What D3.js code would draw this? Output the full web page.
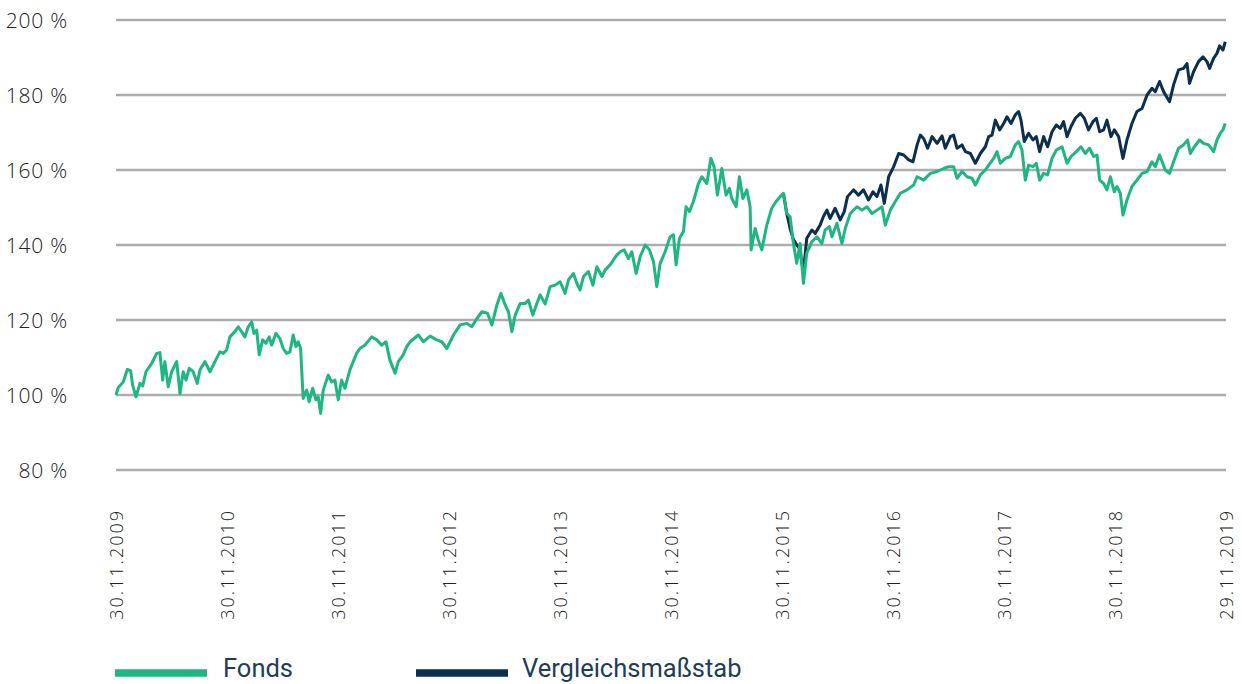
<!DOCTYPE html>
<html>
<head>
<meta charset="utf-8">
<script src="https://cdn.jsdelivr.net/npm/d3@7"></script>
<style>
  body { margin: 0; background: #fff; }
  svg { display: block; }
</style>
</head>
<body>
<svg id="chart" width="1242" height="684"></svg>
<script>
// tick labels
const dateLabels = ["30.11.2009", "30.11.2010", "30.11.2011", "30.11.2012", "30.11.2013",
  "30.11.2014", "30.11.2015", "30.11.2016", "30.11.2017", "30.11.2018", "29.11.2019"];
const yTicks = [80, 100, 120, 140, 160, 180, 200];
const seriesNames = ["Fonds", "Vergleichsmaßstab"];

// [decimal year, % value]
const fonds = [
  [2009.912, 100], [2009.933, 102.0], [2009.978, 103.5], [2010.014, 106.8], [2010.044, 106.5],
  [2010.062, 102.7], [2010.092, 99.5], [2010.128, 103.1], [2010.153, 102.4], [2010.182, 106.2],
  [2010.234, 108.4], [2010.279, 111.1], [2010.308, 111.3], [2010.333, 104], [2010.353, 108.9],
  [2010.383, 102.2], [2010.414, 106.2], [2010.459, 108.9], [2010.489, 100.4], [2010.518, 106.2],
  [2010.543, 104], [2010.572, 107.1], [2010.608, 106.2], [2010.644, 103.1], [2010.669, 106.7],
  [2010.714, 108.9], [2010.759, 106.2], [2010.804, 108.9], [2010.849, 111.5], [2010.879, 111.1],
  [2010.909, 112], [2010.939, 115.5], [2010.984, 116.9], [2011.014, 118.2], [2011.044, 116.9],
  [2011.074, 115.5], [2011.104, 118.2], [2011.135, 119.5], [2011.155, 116.4], [2011.180, 117.3],
  [2011.203, 110.7], [2011.234, 114.7], [2011.263, 113.8], [2011.293, 115.5], [2011.315, 113.3],
  [2011.353, 116.4], [2011.389, 115.1], [2011.419, 112.4], [2011.450, 111.1], [2011.480, 111.5],
  [2011.509, 116], [2011.534, 112.9], [2011.554, 114.2], [2011.576, 112.4], [2011.599, 99.1],
  [2011.630, 101.3], [2011.653, 98.2], [2011.684, 101.8], [2011.714, 98.7], [2011.735, 99.5],
  [2011.756, 95.1], [2011.780, 101.3], [2011.825, 105.3], [2011.855, 103.5], [2011.885, 104],
  [2011.915, 98.7], [2011.945, 104], [2011.975, 101.8], [2012.020, 106.7], [2012.080, 111.1],
  [2012.110, 112.4], [2012.155, 113.3], [2012.216, 115.5], [2012.261, 114.7], [2012.306, 113.3],
  [2012.344, 114.2], [2012.380, 109.3], [2012.426, 105.8], [2012.455, 108.9], [2012.495, 110.5],
  [2012.531, 112.9], [2012.561, 114.2], [2012.635, 116], [2012.680, 114.2], [2012.741, 115.7],
  [2012.801, 114.7], [2012.846, 114.2], [2012.891, 112.4], [2012.951, 116], [2013.011, 118.7],
  [2013.071, 119.1], [2013.116, 118.2], [2013.162, 120.4], [2013.207, 122.2], [2013.257, 121.8],
  [2013.297, 118.7], [2013.342, 124], [2013.378, 127.1], [2013.417, 124], [2013.446, 122.2],
  [2013.477, 116.9], [2013.507, 121.3], [2013.552, 124.4], [2013.597, 124.4], [2013.626, 125.3],
  [2013.666, 121.3], [2013.702, 124.4], [2013.732, 126.7], [2013.777, 124.3], [2013.822, 128.9],
  [2013.867, 129.3], [2013.912, 130.2], [2013.957, 127.1], [2013.987, 130.7], [2014.032, 132.4],
  [2014.062, 129.8], [2014.092, 128], [2014.122, 131.6], [2014.167, 132.9], [2014.207, 129.3],
  [2014.243, 134.2], [2014.288, 131.6], [2014.317, 133.3], [2014.362, 134.7], [2014.417, 137.1],
  [2014.453, 138.2], [2014.489, 138.7], [2014.527, 136.4], [2014.558, 138.2], [2014.597, 132.4],
  [2014.633, 136.9], [2014.678, 140], [2014.717, 138.7], [2014.753, 135.6], [2014.783, 128.9],
  [2014.813, 135.1], [2014.858, 138.2], [2014.903, 142.2], [2014.933, 142.7], [2014.957, 134.7],
  [2014.987, 141.8], [2015.023, 143.6], [2015.047, 150.2], [2015.077, 148.9], [2015.113, 151.6],
  [2015.158, 156.4], [2015.189, 158.2], [2015.234, 156.4], [2015.270, 163.1], [2015.299, 160.9],
  [2015.329, 153.3], [2015.369, 160.4], [2015.407, 153.3], [2015.437, 155.1], [2015.459, 152.4],
  [2015.498, 150.2], [2015.527, 158.2], [2015.558, 152.4], [2015.594, 154.7], [2015.624, 150.2],
  [2015.633, 138.7], [2015.669, 144.4], [2015.698, 141.3], [2015.729, 138.7], [2015.774, 145.3],
  [2015.819, 149.8], [2015.858, 151.6], [2015.894, 152.9], [2015.924, 153.8], [2015.954, 148.4],
  [2015.984, 147.6], [2016.014, 140.4], [2016.044, 135.1], [2016.074, 140.4], [2016.104, 129.8],
  [2016.134, 137.8], [2016.180, 140.9], [2016.225, 142.2], [2016.270, 140.4], [2016.299, 144],
  [2016.338, 144.9], [2016.360, 142.2], [2016.405, 145.8], [2016.450, 140.4], [2016.480, 144.4],
  [2016.525, 148.4], [2016.585, 150.2], [2016.630, 149.3], [2016.675, 150.2], [2016.720, 148.4],
  [2016.765, 149.3], [2016.810, 150.2], [2016.840, 145.3], [2016.885, 149.3], [2016.930, 151.6],
  [2016.975, 153.8], [2017.035, 154.7], [2017.095, 156], [2017.126, 158.2], [2017.185, 157.3],
  [2017.245, 159.1], [2017.306, 159.6], [2017.365, 160.4], [2017.410, 160.9], [2017.455, 160.9],
  [2017.486, 157.8], [2017.531, 159.6], [2017.576, 158.2], [2017.621, 157.8], [2017.651, 156],
  [2017.696, 158.7], [2017.741, 160], [2017.771, 161.3], [2017.816, 163.1], [2017.846, 164.9],
  [2017.876, 161.8], [2017.921, 163.1], [2017.966, 163.6], [2018.011, 166.7], [2018.041, 167.6],
  [2018.071, 165.3], [2018.101, 157.3], [2018.131, 161.3], [2018.170, 160.9], [2018.200, 161.8],
  [2018.230, 157.3], [2018.266, 159.1], [2018.302, 158.7], [2018.342, 163.1], [2018.380, 165.3],
  [2018.432, 166.2], [2018.477, 161.8], [2018.513, 163.6], [2018.561, 164.9], [2018.603, 166.2],
  [2018.642, 164.4], [2018.680, 165.8], [2018.717, 163.6], [2018.747, 164], [2018.771, 157.3],
  [2018.807, 156.4], [2018.837, 154.7], [2018.867, 158.2], [2018.903, 154.2], [2018.927, 155.6],
  [2018.957, 153.8], [2018.981, 148], [2019.017, 152], [2019.062, 155.6], [2019.107, 157.3],
  [2019.153, 159.1], [2019.198, 159.6], [2019.243, 162.2], [2019.272, 160.9], [2019.311, 164],
  [2019.362, 160], [2019.401, 159.1], [2019.437, 162.2], [2019.482, 165.8], [2019.527, 166.7],
  [2019.563, 168], [2019.588, 164.4], [2019.624, 166.2], [2019.671, 168], [2019.707, 167.1],
  [2019.753, 166.7], [2019.798, 164.9], [2019.828, 168], [2019.858, 169.8], [2019.882, 170.7],
  [2019.903, 172.4]
];

const vergleich = [
  [2015.924, 153.8], [2015.954, 148.4], [2015.984, 144.4], [2016.014, 141.5], [2016.044, 140],
  [2016.068, 139.1], [2016.104, 133], [2016.134, 141.8], [2016.180, 144], [2016.210, 143.1],
  [2016.254, 145.3], [2016.284, 147.6], [2016.315, 149.3], [2016.344, 147.1], [2016.389, 149.8],
  [2016.435, 146.7], [2016.471, 148.9], [2016.500, 152.9], [2016.554, 154.7], [2016.599, 153.3],
  [2016.644, 154.7], [2016.689, 152], [2016.729, 154.2], [2016.765, 152.9], [2016.801, 156],
  [2016.831, 151.1], [2016.870, 158.2], [2016.915, 160.9], [2016.960, 164.4], [2017.005, 164],
  [2017.050, 162.7], [2017.089, 162.2], [2017.126, 166.7], [2017.155, 169.3], [2017.185, 168.4],
  [2017.221, 165.8], [2017.261, 168.9], [2017.306, 167.1], [2017.351, 169.1], [2017.380, 165.8],
  [2017.426, 168.9], [2017.455, 169.3], [2017.486, 165.8], [2017.531, 166.7], [2017.561, 164.9],
  [2017.606, 164.4], [2017.651, 161.8], [2017.696, 164.4], [2017.741, 166.2], [2017.771, 168.9],
  [2017.801, 169.3], [2017.831, 173.3], [2017.870, 170.7], [2017.906, 172.4], [2017.936, 174.2],
  [2017.972, 172.4], [2018.011, 174.7], [2018.041, 175.6], [2018.062, 173.3], [2018.092, 167.6],
  [2018.131, 169.8], [2018.170, 168], [2018.200, 168.9], [2018.230, 164.9], [2018.266, 168.9],
  [2018.302, 166.2], [2018.342, 170.2], [2018.380, 172], [2018.417, 171.1], [2018.446, 172.9],
  [2018.477, 168.9], [2018.513, 171.6], [2018.552, 173.8], [2018.597, 175.1], [2018.633, 173.8],
  [2018.671, 170.7], [2018.711, 172.9], [2018.741, 173.8], [2018.771, 170.2], [2018.807, 170.7],
  [2018.837, 173.3], [2018.873, 168.9], [2018.903, 170.7], [2018.942, 168.9], [2018.981, 163.1],
  [2019.017, 168], [2019.062, 172.4], [2019.107, 175.6], [2019.153, 176.4], [2019.198, 180],
  [2019.243, 181.8], [2019.272, 180.9], [2019.311, 183.6], [2019.347, 180.9], [2019.401, 178.2],
  [2019.437, 182.7], [2019.482, 186.7], [2019.527, 187.1], [2019.558, 188.4], [2019.581, 183.1],
  [2019.617, 186.2], [2019.662, 188.9], [2019.702, 190.2], [2019.738, 188.9], [2019.762, 187.1],
  [2019.798, 189.8], [2019.828, 191.1], [2019.852, 193.1], [2019.882, 192], [2019.903, 194.2]
];

const green = "#1fb584";
const navy = "#0b2f4e";

// decimal year -> Date
function toDate(y) {
  const yr = Math.floor(y);
  const a = Date.UTC(yr, 0, 1), b = Date.UTC(yr + 1, 0, 1);
  return new Date(a + (y - yr) * (b - a));
}

const parse = d3.utcParse("%d.%m.%Y");
const tickDates = dateLabels.map(parse);

const svg = d3.select("#chart");

const x = d3.scaleUtc()
  .domain([tickDates[0], tickDates[tickDates.length - 1]])
  .range([116, 1226]);

const y = d3.scaleLinear()
  .domain([80, 200])
  .range([470, 20]);

// grid lines
svg.append("g")
  .selectAll("line")
  .data(yTicks)
  .join("line")
  .attr("x1", 116)
  .attr("x2", 1226)
  .attr("y1", d => y(d))
  .attr("y2", d => y(d))
  .attr("stroke", "#adadb0")
  .attr("stroke-width", 2.5);

// y axis labels
const yAxis = d3.axisLeft(y)
  .tickValues(yTicks)
  .tickSize(0)
  .tickPadding(0)
  .tickFormat(d => d + " %");

svg.append("g")
  .attr("transform", "translate(68,0)")
  .call(yAxis)
  .call(g => g.select(".domain").remove())
  .call(g => g.selectAll("text")
    .attr("font-family", "'Open Sans', sans-serif")
    .attr("font-weight", 300)
    .attr("font-size", 21)
    .attr("letter-spacing", 0.8)
    .attr("fill", "#222")
    .attr("dy", "0.35em"));

// x axis labels, rotated
const xAxis = d3.axisBottom(x)
  .tickValues(tickDates)
  .tickSize(0)
  .tickPadding(0)
  .tickFormat((d, i) => dateLabels[i]);

svg.append("g")
  .attr("transform", "translate(0,509)")
  .call(xAxis)
  .call(g => g.select(".domain").remove())
  .call(g => g.selectAll("text")
    .attr("font-family", "'Open Sans', sans-serif")
    .attr("font-weight", 300)
    .attr("font-size", 18)
    .attr("letter-spacing", 2)
    .attr("fill", "#222")
    .attr("text-anchor", "end")
    .attr("dy", "0.35em")
    .attr("y", 0)
    .attr("transform", "rotate(-90)"));

const line = d3.line()
  .x(d => x(toDate(d[0])))
  .y(d => y(d[1]));

svg.append("path")
  .datum(vergleich)
  .attr("fill", "none")
  .attr("stroke", navy)
  .attr("stroke-width", 3)
  .attr("stroke-linejoin", "round")
  .attr("d", line);

svg.append("path")
  .datum(fonds)
  .attr("fill", "none")
  .attr("stroke", green)
  .attr("stroke-width", 3)
  .attr("stroke-linejoin", "round")
  .attr("d", line);

// legend
const legend = [
  { name: seriesNames[0], color: green, x: 115 },
  { name: seriesNames[1], color: navy, x: 416 }
];

const lg = svg.append("g").attr("transform", "translate(0,673)");
lg.selectAll("rect")
  .data(legend)
  .join("rect")
  .attr("x", d => d.x)
  .attr("y", -3.75)
  .attr("width", 92)
  .attr("height", 7.5)
  .attr("fill", d => d.color);

lg.selectAll("text")
  .data(legend)
  .join("text")
  .attr("x", (d, i) => d.x + (i === 0 ? 108 : 106))
  .attr("y", 4)
  .attr("font-family", "'Liberation Sans Narrow', 'Roboto', sans-serif")
  .attr("font-size", 25.5)
  .attr("fill", "#1f3d58")
  .text(d => d.name);
</script>
</body>
</html>
